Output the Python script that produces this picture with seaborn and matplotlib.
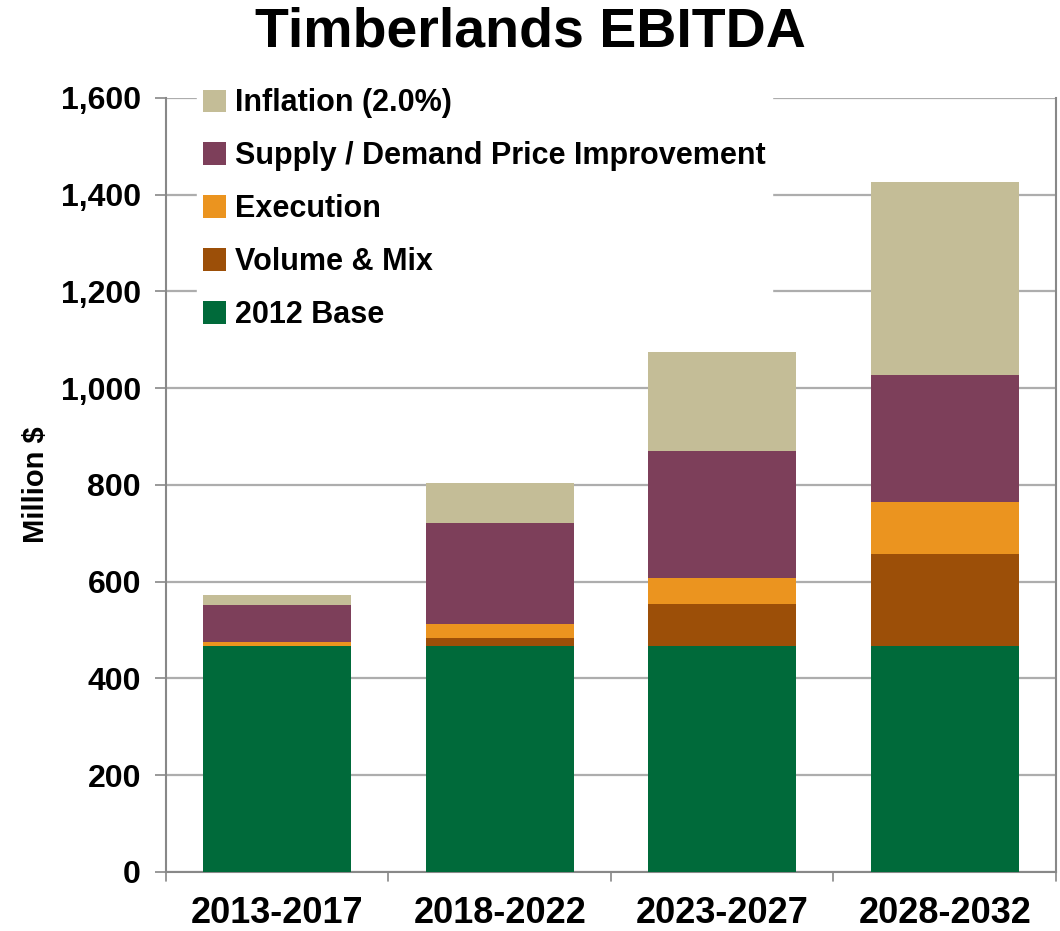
import numpy as np
import pandas as pd
import matplotlib
matplotlib.use("Agg")
import matplotlib.pyplot as plt
import seaborn as sns
from matplotlib.patches import Patch

periods = ["2013-2017", "2018-2022", "2023-2027", "2028-2032"]
base = [466, 466, 467, 467]
volume_mix = [0, 18, 86, 190]
execution = [10, 28, 54, 107]
supply_demand = [75, 209, 263, 263]
inflation = [21, 83, 204, 399]

layers = ["2012 Base", "Volume & Mix", "Execution",
          "Supply / Demand Price Improvement", "Inflation (2.0%)"]
colors = ["#006A3A", "#9C4F08", "#EB941F", "#7D3F5A", "#C4BD97"]

df = pd.DataFrame({"period": periods, "2012 Base": base, "Volume & Mix": volume_mix,
                   "Execution": execution,
                   "Supply / Demand Price Improvement": supply_demand,
                   "Inflation (2.0%)": inflation})
cum = df[layers].cumsum(axis=1)
cum["period"] = df["period"]

sns.set_style("white")
plt.rcParams["font.family"] = ["Liberation Sans", "DejaVu Sans"]
plt.rcParams["font.weight"] = "bold"
plt.rcParams["text.color"] = "black"
plt.rcParams["xtick.color"] = "black"
plt.rcParams["ytick.color"] = "black"

fig = plt.figure(figsize=(10.6, 9.31), dpi=100)
ax = fig.add_axes([0.1566, 0.0634, 0.8396, 0.8316])

# stacked bars: draw cumulative totals, largest first
for layer, col in reversed(list(zip(layers, colors))):
    sns.barplot(data=cum, x="period", y=layer, color=col, width=0.667,
                saturation=1, linewidth=0, ax=ax, zorder=3)

ax.set_ylim(0, 1600)
ax.set_xlim(-0.5, 3.5)
ax.set_yticks(np.arange(0, 1601, 200))
ax.set_yticklabels([f"{v:,}" for v in range(0, 1601, 200)], fontsize=23, fontweight="bold")
ax.set_xticks(range(4))
ax.set_xticklabels(periods, fontsize=26, fontweight="bold")
ax.tick_params(axis="x", length=0, pad=17, colors="black")
ax.tick_params(axis="y", length=8, width=1.2, color="#888888", labelcolor="black",
               left=True, pad=10)
for xb in np.arange(-0.5, 4, 1):
    ax.plot([xb, xb], [0, -0.012], transform=ax.get_xaxis_transform(),
            color="#888888", lw=1.2, clip_on=False)

ax.yaxis.grid(True, color="#ADADAD", lw=1.6, zorder=0)
ax.set_axisbelow(True)
for side in ["left", "bottom", "right"]:
    ax.spines[side].set_visible(True)
    ax.spines[side].set_color("#888888")
    ax.spines[side].set_linewidth(1.5)
ax.spines["top"].set_visible(False)

ax.set_xlabel("")
ax.set_ylabel("Million $", fontsize=21, fontweight="bold", labelpad=8, color="black")

handles = [Patch(facecolor=c, edgecolor="none") for c in reversed(colors)]
leg = ax.legend(handles, list(reversed(layers)), loc="upper left",
                bbox_to_anchor=(0.035, 1.02), frameon=True, framealpha=1,
                edgecolor="white", fontsize=22, handlelength=0.75, handleheight=0.75,
                handletextpad=0.3, labelspacing=0.75, borderpad=0.2, borderaxespad=0)
leg.set_zorder(5)
for t in leg.get_texts():
    t.set_fontweight("bold")
    t.set_color("black")

fig.suptitle("Timberlands EBITDA", fontsize=40, fontweight="bold", x=0.5, y=0.993,
             color="black")

fig.savefig("out.png", dpi=100)
